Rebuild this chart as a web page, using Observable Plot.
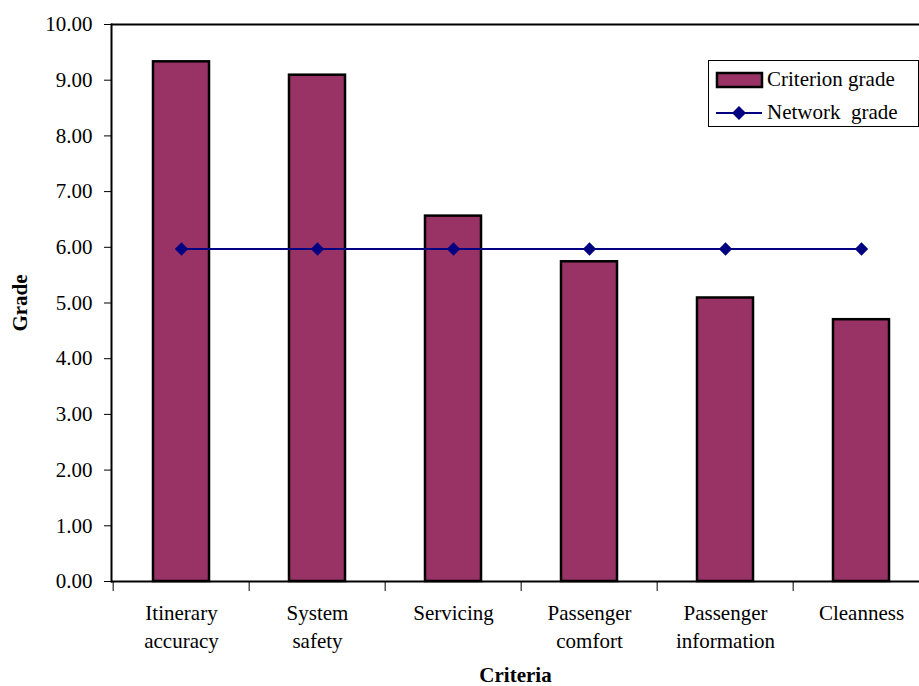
<!DOCTYPE html>
<html>
<head>
<meta charset="utf-8">
<script src="https://cdn.jsdelivr.net/npm/d3@7"></script>
<script src="https://cdn.jsdelivr.net/npm/@observablehq/plot@0.6"></script>
<style>
  html, body { margin: 0; padding: 0; background: #fff; }
  #wrap { position: relative; width: 919px; height: 686px; overflow: hidden; font-family: "Liberation Serif", "Times New Roman", serif; }
  #legend { position: absolute; left: 708px; top: 60px; width: 211px; height: 67px; border: 1px solid #000; background: #fff; box-sizing: border-box; }
  .row { position: absolute; left: 6px; display: flex; align-items: center; font-size: 21px; color: #000; white-space: pre; }
</style>
</head>
<body>
<div id="wrap">
  <div id="chart"></div>
  <div id="legend">
    <div class="row" style="top:6px;">
      <svg width="52" height="18"><rect x="2" y="2" width="45" height="14" fill="#993366" stroke="#000" stroke-width="2.5"/></svg>
      <span>Criterion grade</span>
    </div>
    <div class="row" style="top:39px;">
      <svg width="52" height="18"><line x1="1" x2="47" y1="9" y2="9" stroke="#000080" stroke-width="2"/><path d="M24,2 L31,9 L24,16 L17,9 Z" fill="#000080"/></svg>
      <span>Network  grade</span>
    </div>
  </div>
</div>
<script>
const categories = ["Itinerary\naccuracy", "System\nsafety", "Servicing", "Passenger\ncomfort", "Passenger\ninformation", "Cleanness"];
const criterionGrade = [9.33, 9.09, 6.56, 5.74, 5.09, 4.70];
const networkGrade = [5.97, 5.97, 5.97, 5.97, 5.97, 5.97];
const yTicks = [0, 1, 2, 3, 4, 5, 6, 7, 8, 9, 10];

const data = categories.map((c, i) => ({criterion: c, grade: criterionGrade[i], network: networkGrade[i]}));

const W = 919, H = 686;
const mLeft = 111, mTop = 24, mBottom = 105;
const xRange = [mLeft, 931];
const step = (xRange[1] - xRange[0]) / categories.length;

const chart = Plot.plot({
  width: W,
  height: H,
  marginLeft: mLeft,
  marginRight: 0,
  marginTop: mTop,
  marginBottom: mBottom,
  style: {fontFamily: "'Liberation Serif', 'Times New Roman', serif", fontSize: "21px", color: "#000", background: "#fff"},
  x: {domain: categories, range: xRange, paddingInner: 0.59, paddingOuter: 0.295, axis: null},
  y: {domain: [0, 10], axis: null},
  marks: [
    Plot.barY(data, {x: "criterion", y: "grade", fill: "#993366", stroke: "#000", strokeWidth: 2.5}),
    Plot.ruleY([0, 10], {stroke: "#000", strokeWidth: 2}),
    Plot.frame({anchor: "left", stroke: "#000", strokeWidth: 2}),
    Plot.axisY({ticks: yTicks, tickFormat: d => d.toFixed(2), tickSize: 7, tickPadding: 12, fontSize: 21,
      label: "Grade", labelAnchor: "center", labelOffset: 99, labelArrow: "none"}),
    Plot.axisX({tickSize: 10, text: null, dx: -step / 2, label: null}),
    Plot.axisX({tickSize: 0, tickPadding: 18, fontSize: 21, lineHeight: 1.36,
      label: "Criteria", labelAnchor: "center", labelOffset: 100, labelArrow: "none"}),
    Plot.line(data, {x: "criterion", y: "network", stroke: "#000080", strokeWidth: 2}),
    Plot.dot(data, {x: "criterion", y: "network", symbol: "diamond2", r: 6, fill: "#000080", stroke: "none"})
  ]
});
d3.select(chart).selectAll("[aria-label='y-axis label'] text, [aria-label='x-axis label'] text, g[aria-label='y-axis label'], g[aria-label='x-axis label']")
  .attr("font-weight", "bold");
document.getElementById("chart").appendChild(chart);
</script>
</body>
</html>
